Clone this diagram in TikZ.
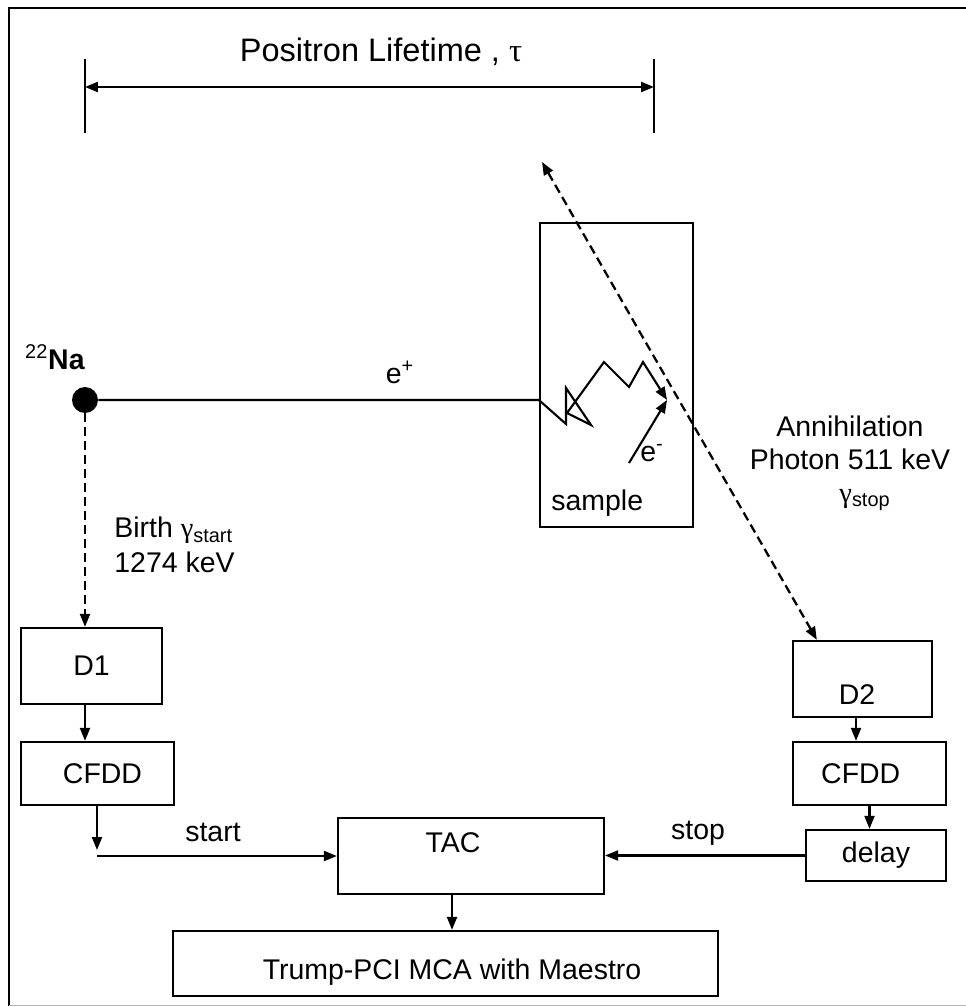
\documentclass[tikz,border=0pt]{standalone}
\usepackage{fontspec}
\setmainfont{Liberation Sans}
\newfontfamily\grk{Liberation Serif}
\usetikzlibrary{arrows.meta,positioning}

\begin{document}
\begin{tikzpicture}[x=0.02cm,y=-0.02cm,
  box/.style={draw,line width=1.3pt,inner sep=0pt,font=\fontsize{16.2}{20}\selectfont},
  arr/.style={-{Triangle[length=0.26cm,width=0.2cm]},line width=1.2pt},
  arrboth/.style={{Triangle[length=0.26cm,width=0.2cm]}-{Triangle[length=0.26cm,width=0.2cm]}},
  dasharr/.style={arrboth,line width=1.3pt,dash pattern=on 0.18cm off 0.1cm},
  lab/.style={font=\fontsize{16.2}{20}\selectfont,inner sep=0pt}]
  \useasboundingbox (0,0) rectangle (966,1007);
  % frame
  \draw[line width=1.7pt] (9,1006) -- (9,8) -- (966,8);
  \draw[gray!60,line width=1pt] (9,1005.5) -- (966,1005.5);
  % lifetime bracket
  \coordinate (tl1) at (85,59);  \coordinate (tl2) at (85,133);
  \coordinate (tr1) at (654,59); \coordinate (tr2) at (654,133);
  \draw[line width=0.9pt] (tl1) -- (tl2) (tr1) -- (tr2);
  \draw[arrboth,line width=1.3pt] (tl1 |- 0,87) -- (tr1 |- 0,87);
  \node[lab,font=\fontsize{18.5}{22}\selectfont] (life) at (381,52) {Positron Lifetime , {\grk τ}};
  % source and sample
  \node[circle,fill,minimum size=0.52cm,inner sep=0pt] (na) at (85,400) {};
  \node[lab] (nalab) at (55,357) {\textsuperscript{22}\textbf{Na}};
  \node[box,minimum width=3.06cm,minimum height=6.08cm] (smp) at (616.5,375) {};
  \node[lab,anchor=west] (smplab) at (551,503) {sample};
  \node[lab] (ep) at (400,372) {e\textsuperscript{+}};
  \coordinate (meet) at (667,400);
  \coordinate (eorig) at (629,463);
  \draw[arr] (na.east) -- (smp.west |- na) -- (566,424) -- (566,388) -- (591,425) -- (567,413)
    -- (604,362) -- (629,387) -- (643,362) -- (meet);
  \draw[arr] (eorig) -- (meet);
  \node[lab] (em) at (652,453) {e\textsuperscript{-}};
  % annihilation photon
  \coordinate (far) at (542,162);
  \node[lab,align=center,font=\fontsize{16.2}{19}\selectfont] (anni) at (850,443) {Annihilation\\Photon 511 keV};
  \node[lab] (gstop) at (865,500) {{\grk γ}\textsubscript{stop}};
  \node[lab,anchor=west,align=left] (birth) at (114,545) {Birth {\grk γ}\textsubscript{start}\\1274 keV};
  % electronics
  \node[box,minimum width=2.82cm,minimum height=1.52cm] (d1) at (91.5,666) {D1};
  \node[box,minimum width=3.06cm,minimum height=1.26cm] (cfddl) at (97.5,773.5) {\hspace*{0.2cm}CFDD};
  \node[box,minimum width=5.32cm,minimum height=1.52cm,
        label={[lab,xshift=-0.36cm,yshift=0.26cm]center:TAC}] (tac) at (471,856) {};
  \node[box,minimum width=10.9cm,minimum height=1.3cm,
        label={[lab,xshift=0.13cm,yshift=-0.17cm]center:Trump-PCI MCA with Maestro}] (mca) at (445.5,963.5) {};
  \node[box,minimum width=2.78cm,minimum height=1.52cm,
        label={[lab,xshift=-0.11cm,yshift=-0.32cm]center:D2}] (d2) at (862.5,679) {};
  \node[box,minimum width=3.06cm,minimum height=1.26cm] (cfddr) at (869.5,773.5) {CFDD\hspace*{0.35cm}};
  \node[box,minimum width=2.8cm,minimum height=1.02cm] (delay) at (876,855.5) {delay};
  \coordinate (kink) at (97,856);
  \node[lab] (start) at (213,832) {start};
  \node[lab] (stop) at (698,833) {stop};
  \draw[dasharr] (far) -- ([xshift=0.5cm]d2.north west);
  \draw[arr,dash pattern=on 0.18cm off 0.1cm] (na.south) -- (na |- d1.north);
  \draw[arr] (na |- d1.south) -- (na |- cfddl.north);
  \draw[arr] (cfddl.south -| kink) -- ([yshift=0.12cm]kink);
  \draw[arr] (kink) -- (tac.west |- kink);
  \draw[arr] ([xshift=-0.13cm]d2.south) -- ([xshift=-0.13cm]d2.south |- cfddr.north);
  \draw[arr] (cfddr.south) -- (cfddr.south |- delay.north);
  \draw[arr] (delay.west) -- (delay.west -| tac.east);
  \draw[arr] ([xshift=-0.38cm]tac.south) -- ([xshift=-0.38cm]tac.south |- mca.north);
\end{tikzpicture}
\end{document}
